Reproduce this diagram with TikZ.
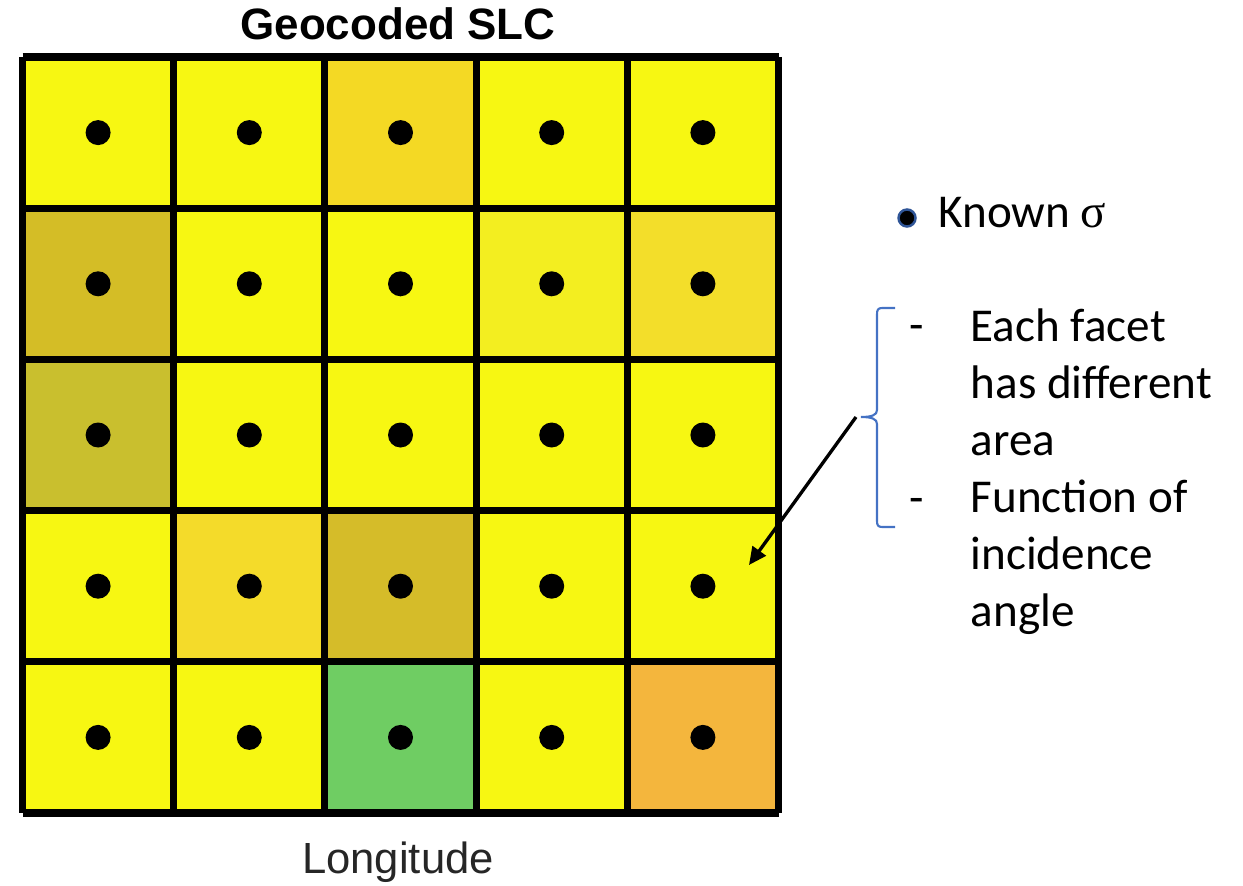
\documentclass[tikz,border=0pt]{standalone}
\usepackage{fontspec}
\setmainfont{Liberation Sans}
\newfontfamily\calib{Carlito}
\newfontfamily\symser{Liberation Serif}
\usetikzlibrary{arrows.meta}
\definecolor{cY}{HTML}{F7F712}
\definecolor{cGold}{HTML}{F4D924}
\definecolor{cOliveA}{HTML}{D4BD26}
\definecolor{cPale}{HTML}{F3EE20}
\definecolor{cGoldB}{HTML}{F3DE2A}
\definecolor{cOliveB}{HTML}{C9BF2E}
\definecolor{cGoldC}{HTML}{F4DB2A}
\definecolor{cOliveC}{HTML}{D5BC29}
\definecolor{cGreen}{HTML}{6FCD63}
\definecolor{cOrange}{HTML}{F4B63D}
\definecolor{braceblue}{HTML}{4472C4}
\definecolor{bulletblue}{HTML}{2F5597}
\begin{document}
\begin{tikzpicture}[x=0.01cm,y=-0.01cm,
  gridline/.style={line width=2pt,black},
  dotmark/.style={fill=black},
  lbl/.style={inner sep=0pt,anchor=base},
  sidetext/.style={inner sep=0pt,anchor=base west,align=left,font=\calib\fontsize{13.4}{16.2}\selectfont}]
\useasboundingbox (0,0) rectangle (1243,885);
% cell fills
\fill[cY] (22.5,57) rectangle (778.5,813);
\foreach \r/\c/\col in {0/2/cGold,1/0/cOliveA,1/3/cPale,1/4/cGoldB,2/0/cOliveB,3/1/cGoldC,3/2/cOliveC,4/2/cGreen,4/4/cOrange}{
  \fill[\col] (22.5+151.2*\c,57+151.2*\r) rectangle (22.5+151.2*\c+151.2,57+151.2*\r+151.2);
}
% grid lines
\foreach \i in {0,...,5}{
  \draw[gridline] (22.5+151.2*\i,57) -- (22.5+151.2*\i,813);
  \draw[gridline] (22.5,57+151.2*\i) -- (778.5,57+151.2*\i);
}
% dots
\foreach \r in {0,...,4}{
  \foreach \c in {0,...,4}{
    \fill[dotmark] (98.1+151.2*\c,132.6+151.2*\r) circle (12.5);
  }
}
% title and axis label
\node[lbl,font=\bfseries\fontsize{12.5}{15}\selectfont] (title) at (398,40) {Geocoded SLC};
\node[lbl,font=\fontsize{12.4}{15}\selectfont,text=black!85] (xlabel) at (398,873) {Longitude};
% legend
\fill[black,draw=bulletblue,line width=0.7pt] (907,218) circle (8.5);
\node[sidetext] (known) at (938,228) {Known {\symser σ}};
% bracket
\draw[braceblue,line width=0.6pt] (895,308) -- (882,308) .. controls (878,308) and (877,310) .. (877,314) -- (877,410) .. controls (877,415) and (872,417) .. (861,417) .. controls (872,417) and (877,419) .. (877,424) -- (877,521) .. controls (877,525) and (878,527) .. (882,527) -- (895,527);
\coordinate (tip) at (856,417);
\coordinate (target) at (749,565);
\draw[line width=0.95pt,-{Triangle[length=5pt,width=4.6pt]}] (tip) -- (target);
% dashes and text
\node[sidetext] (dashA) at (909,340) {-};
\node[sidetext] (itemA) at (970,455) {Each facet\\has different\\area};
\node[sidetext] (dashB) at (909,513) {-};
\node[sidetext] (itemB) at (970,626) {Function of\\incidence\\angle};
\end{tikzpicture}
\end{document}
